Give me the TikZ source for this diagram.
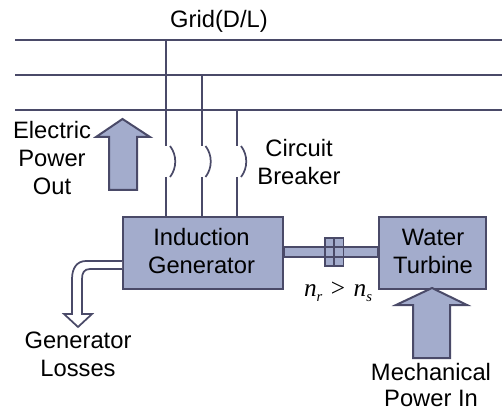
\documentclass[tikz,border=0pt]{standalone}
\usepackage{fontspec}
\setmainfont{Liberation Sans}
\newfontfamily\serifit{Liberation Serif}[ItalicFont=* Italic]
\definecolor{edgec}{HTML}{4A4A68}
\definecolor{fillc}{HTML}{A3ACCC}
\tikzset{
  px/.style={x=0.75pt,y=-0.75pt},
  wire/.style={draw=edgec,line width=1.5pt},
  box/.style={draw=edgec,line width=1.5pt,fill=fillc},
  lbl/.style={font=\fontsize{17.8}{21}\selectfont,align=center,inner sep=0pt,text=black},
  mathlbl/.style={font=\fontsize{19}{21}\selectfont\serifit,inner sep=0pt,text=black}
}
\begin{document}
\begin{tikzpicture}[px]
\useasboundingbox (0,0) rectangle (502,409);
% nodes
\node[box,minimum width=120pt,minimum height=54pt,anchor=north west,inner sep=0pt] (gen) at (122,216) {};
\node[box,minimum width=80.25pt,minimum height=54pt,anchor=north west,inner sep=0pt] (tur) at (378,216) {};
\node[lbl] (gentxt) at (201.5,251) {Induction\\Generator};
\node[lbl] (turtxt) at (433,251) {Water\\Turbine};
\node[lbl] (grid) at (219,21) {Grid(D/L)};
\node[lbl] (epo) at (52,158) {Electric\\Power\\Out};
\node[lbl] (cb) at (299,162) {Circuit\\Breaker};
\node[lbl] (gl) at (78,354) {Generator\\Losses};
\node[lbl,font=\fontsize{17.8}{20}\selectfont] (mp) at (431,385) {Mechanical\\Power In};
\node[mathlbl] (sp) at (338,292) {\textit{n}\raisebox{-3.5pt}{\fontsize{11}{11}\selectfont\textit{r}}\,\,>\,\,\textit{n}\raisebox{-3.5pt}{\fontsize{11}{11}\selectfont\textit{s}}};
% bus
\foreach \n/\y in {a/40,b/75,c/110}{
  \coordinate (\n0) at (15,\y); \coordinate (\n1) at (502,\y);
  \draw[wire] (\n0) -- (\n1);
}
% feeders
\foreach \n/\x/\t in {p/166/40,q/201.5/75,r/237/110}{
  \coordinate (\n t) at (\x,\t);
  \coordinate (\n u) at (\x,146);
  \coordinate (\n v) at (\x,177);
  \coordinate (\n b) at (\x,216);
  \draw[wire] (\n t) -- (\n u);
  \draw[wire] (\n v) -- (\n b);
  \draw[wire,line width=1.3pt] (\x+4,146) .. controls (\x+11,155) and (\x+11,168) .. (\x+4,177);
}
% shaft
\draw[box,line width=1.3pt] (gen.east|-0,247) rectangle (tur.west|-0,257);
% coupling
\draw[box,line width=1.3pt] (325,238) rectangle (343.5,266);
\draw[edgec,line width=1.3pt] (334,238) -- (334,266);
\draw[edgec,line width=1.3pt] (325,247) -- (343.5,247) (325,257) -- (343.5,257);
% big arrows
\draw[box,line join=miter] (109,190) -- (137,190) -- (137,137) -- (150,137) -- (122.5,119) -- (96,137) -- (109,137) -- cycle;
\draw[box,line join=miter] (413,358) -- (450,358) -- (450,305) -- (467,305) -- (432,288) -- (396,305) -- (413,305) -- cycle;
% loss arrow
\draw[draw=edgec,line width=1.3pt,fill=white,line join=miter]
  (122,261) -- (86,261) .. controls (77,261) and (72,268) .. (72,279) -- (72,314) -- (64,314) -- (78,327) -- (92,314) -- (82,314) -- (82,279) .. controls (82,273) and (84,269) .. (90,269) -- (122,269);
\end{tikzpicture}
\end{document}
